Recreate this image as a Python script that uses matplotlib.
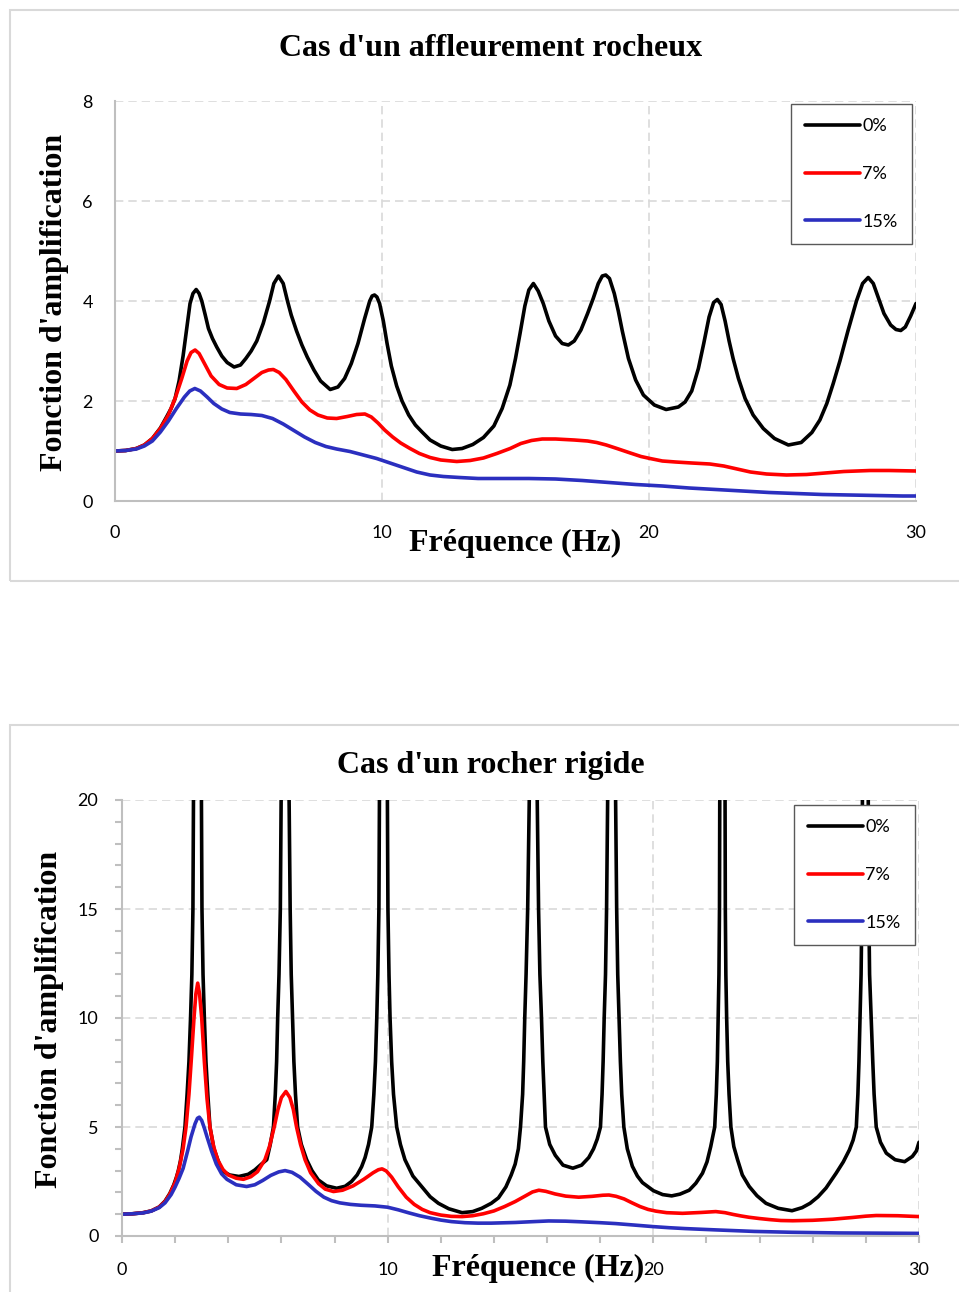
import matplotlib
matplotlib.use("Agg")
import matplotlib.pyplot as plt
import matplotlib.patches as patches
from matplotlib.ticker import MultipleLocator

# ---- data ----
# Top chart: Cas d'un affleurement rocheux
f_top_0 = [0, 0.4, 0.8, 1.1, 1.4, 1.7, 1.95, 2.1, 2.25, 2.4, 2.55, 2.7, 2.81, 2.92, 3.04,
           3.15, 3.25, 3.38, 3.5, 3.65, 3.81, 4.0, 4.2, 4.46, 4.7, 4.9, 5.1, 5.31, 5.55,
           5.79, 5.95, 6.12, 6.3, 6.46, 6.6, 6.8, 7.0, 7.2, 7.45, 7.7, 8.06, 8.35, 8.6,
           8.85, 9.1, 9.35, 9.54, 9.63, 9.72, 9.81, 9.91, 10.05, 10.19, 10.35, 10.55, 10.75,
           11.0, 11.25, 11.5, 11.8, 12.2, 12.63, 13.0, 13.4, 13.8, 14.19, 14.5, 14.79, 15.0,
           15.17, 15.35, 15.5, 15.67, 15.85, 16.04, 16.25, 16.5, 16.75, 16.98, 17.2, 17.45,
           17.7, 17.91, 18.1, 18.25, 18.38, 18.52, 18.7, 18.85, 19.0, 19.23, 19.5, 19.79,
           20.2, 20.64, 21.1, 21.35, 21.6, 21.85, 22.05, 22.25, 22.42, 22.56, 22.7, 22.85,
           23.0, 23.15, 23.35, 23.6, 23.9, 24.28, 24.7, 25.22, 25.7, 26.1, 26.4, 26.66, 26.9,
           27.15, 27.45, 27.77, 28.0, 28.21, 28.4, 28.6, 28.8, 29.05, 29.25, 29.43, 29.6,
           29.8, 30.0]
a_top_0 = [1.0, 1.01, 1.05, 1.12, 1.25, 1.46, 1.7, 1.85, 2.05, 2.4, 2.9, 3.5, 3.95, 4.15, 4.23,
           4.15, 4.0, 3.72, 3.45, 3.25, 3.08, 2.9, 2.77, 2.68, 2.72, 2.85, 3.0, 3.2, 3.55,
           4.0, 4.35, 4.5, 4.35, 4.0, 3.72, 3.4, 3.12, 2.88, 2.62, 2.4, 2.23, 2.28, 2.45,
           2.75, 3.15, 3.65, 4.0, 4.1, 4.12, 4.08, 3.95, 3.6, 3.15, 2.7, 2.3, 2.0,
           1.72, 1.52, 1.38, 1.22, 1.1, 1.03, 1.05, 1.13, 1.27, 1.5, 1.85, 2.32, 2.85,
           3.35, 3.9, 4.22, 4.35, 4.2, 3.95, 3.6, 3.3, 3.15, 3.12, 3.2, 3.42,
           3.75, 4.05, 4.35, 4.5, 4.52, 4.45, 4.15, 3.8, 3.4, 2.85, 2.42, 2.12,
           1.92, 1.83, 1.88, 1.98, 2.2, 2.65, 3.15, 3.68, 3.97, 4.03, 3.93, 3.6,
           3.2, 2.85, 2.45, 2.05, 1.72, 1.45, 1.25, 1.12, 1.17, 1.37, 1.62, 1.95, 2.35,
           2.8, 3.4, 4.0, 4.35, 4.47, 4.35, 4.05, 3.75, 3.52, 3.43, 3.41, 3.48,
           3.7, 3.95]

f_top_7 = [0, 0.4, 0.8, 1.1, 1.4, 1.7, 2.0, 2.25, 2.5, 2.7, 2.85, 3.0, 3.15, 3.35, 3.6, 3.9,
           4.2, 4.56, 4.9, 5.2, 5.5, 5.75, 5.93, 6.15, 6.4, 6.7, 7.0, 7.3, 7.6, 7.95, 8.3,
           8.7, 9.05, 9.36, 9.6, 9.85, 10.1, 10.4, 10.7, 11.05, 11.4, 11.8, 12.2, 12.8,
           13.3, 13.8, 14.3, 14.8, 15.2, 15.6, 16.0, 16.5, 17.2, 17.7, 18.04, 18.4, 18.8,
           19.3, 19.7, 20.04, 20.5, 21.0, 21.6, 22.28, 22.8, 23.3, 23.8, 24.4, 25.15, 25.9,
           26.6, 27.3, 28.28, 29.0, 30.0]
a_top_7 = [1.0, 1.01, 1.05, 1.12, 1.25, 1.45, 1.72, 2.05, 2.45, 2.8, 2.97, 3.02, 2.95, 2.75, 2.5, 2.33,
           2.26, 2.25, 2.33, 2.45, 2.57, 2.62, 2.63, 2.57, 2.43, 2.2, 1.98, 1.82, 1.72, 1.66, 1.65,
           1.69, 1.73, 1.74, 1.68, 1.56, 1.42, 1.28, 1.16, 1.05, 0.95, 0.87, 0.82, 0.79,
           0.81, 0.86, 0.95, 1.05, 1.15, 1.21, 1.24, 1.24, 1.22, 1.2, 1.17, 1.12, 1.05,
           0.96, 0.89, 0.85, 0.8, 0.78, 0.76, 0.74, 0.7, 0.64, 0.58, 0.54, 0.52, 0.53,
           0.56, 0.59, 0.61, 0.61, 0.6]

f_top_15 = [0, 0.4, 0.8, 1.1, 1.4, 1.7, 2.0, 2.3, 2.6, 2.8, 2.99, 3.2, 3.45, 3.7, 4.0, 4.3,
            4.7, 5.1, 5.5, 5.9, 6.3, 6.7, 7.1, 7.5, 7.9, 8.3, 8.8, 9.3, 9.8, 10.3, 10.8, 11.3,
            11.8, 12.3, 12.9, 13.6, 14.5, 15.5, 16.5, 17.5, 18.5, 19.5, 20.5, 21.5, 22.5,
            23.5, 24.5, 25.5, 26.5, 27.5, 28.5, 29.5, 30.0]
a_top_15 = [1.0, 1.01, 1.04, 1.1, 1.2, 1.38, 1.6, 1.85, 2.08, 2.2, 2.25, 2.2, 2.08, 1.95, 1.84, 1.77,
            1.74, 1.73, 1.71, 1.65, 1.54, 1.41, 1.28, 1.17, 1.09, 1.04, 0.99, 0.92, 0.85, 0.76, 0.67, 0.58,
            0.52, 0.49, 0.47, 0.45, 0.45, 0.45, 0.44, 0.41, 0.37, 0.33, 0.3, 0.26, 0.23,
            0.2, 0.17, 0.15, 0.13, 0.12, 0.11, 0.1, 0.1]

# Bottom chart: Cas d'un rocher rigide (0% peaks leave the axes)
f_bot_0 = [0, 0.4, 0.8, 1.1, 1.4, 1.62, 1.8, 1.95, 2.05, 2.12, 2.2, 2.27, 2.37, 2.45, 2.52,
           2.58, 2.63, 2.67, 2.69, 2.84, 2.99, 3.01, 3.05, 3.1, 3.16, 3.23, 3.31, 3.46, 3.75,
           4.05, 4.4, 4.75, 5.0, 5.25, 5.45, 5.58, 5.7, 5.77, 5.82, 5.86, 5.91, 5.96, 5.99,
           6.14, 6.29, 6.33, 6.37, 6.42, 6.47, 6.53, 6.61, 6.75, 6.95, 7.15, 7.39, 7.7, 8.08,
           8.4, 8.64, 8.85, 9.02, 9.15, 9.28, 9.4, 9.48, 9.54, 9.59, 9.63, 9.67, 9.69, 9.84,
           9.99, 10.01, 10.05, 10.09, 10.15, 10.22, 10.34, 10.48, 10.65, 10.95, 11.28, 11.6,
           11.91, 12.3, 12.8, 13.2, 13.54, 13.9, 14.17, 14.45, 14.65, 14.8, 14.92, 15.0,
           15.08, 15.12, 15.16, 15.21, 15.27, 15.33, 15.48, 15.63, 15.68, 15.73, 15.79,
           15.84, 15.89, 15.94, 16.1, 16.31, 16.6, 16.97, 17.3, 17.57, 17.75, 17.89, 18.01,
           18.07, 18.11, 18.15, 18.2, 18.24, 18.28, 18.43, 18.58, 18.62, 18.66, 18.71, 18.76,
           18.81, 18.89, 19.02, 19.21, 19.4, 19.59, 20.0, 20.35, 20.69, 21.0, 21.35, 21.6,
           21.85, 22.02, 22.16, 22.31, 22.37, 22.41, 22.44, 22.47, 22.49, 22.5, 22.6, 22.7,
           22.71, 22.73, 22.76, 22.8, 22.85, 22.92, 23.03, 23.17, 23.35, 23.61, 23.9, 24.24,
           24.7, 25.22, 25.6, 25.9, 26.2, 26.5, 26.88, 27.15, 27.38, 27.52, 27.64, 27.7,
           27.74, 27.78, 27.82, 27.85, 27.87, 27.98, 28.09, 28.11, 28.14, 28.2, 28.26, 28.31,
           28.39, 28.55, 28.77, 29.1, 29.46, 29.75, 29.9, 30.0]
a_bot_0 = [1.0, 1.02, 1.07, 1.15, 1.33, 1.6, 1.95, 2.35, 2.7, 3.0, 3.45, 4.0, 5.0, 6.5, 8,
           10, 12, 15, 20, 1000, 20, 15, 12, 10, 8, 6.5, 5.0, 4.0, 3.0,
           2.8, 2.73, 2.83, 3.03, 3.3, 3.5, 4.2, 5.0, 6.5, 8, 10, 12, 15, 20,
           1000, 20, 15, 12, 10, 8, 6.5, 5.0, 4.2, 3.5, 3.0, 2.57, 2.3, 2.19,
           2.28, 2.5, 2.8, 3.18, 3.6, 4.2, 5.0, 6.5, 8, 10, 12, 15, 20, 1000,
           20, 15, 12, 10, 8, 6.5, 5.0, 4.2, 3.5, 2.75, 2.27, 1.8,
           1.5, 1.25, 1.07, 1.12, 1.27, 1.5, 1.75, 2.25, 2.8, 3.3, 4.0, 5.0,
           6.5, 8, 10, 12, 15, 20, 1000, 20, 15, 12, 10,
           8, 6.5, 5.0, 4.2, 3.7, 3.25, 3.11, 3.25, 3.6, 4.0, 4.45, 5.0,
           6.5, 8, 10, 12, 15, 20, 1000, 20, 15, 12, 10, 8,
           6.5, 5.0, 4.0, 3.2, 2.75, 2.45, 2.08, 1.9, 1.84, 1.92, 2.1, 2.42,
           2.88, 3.4, 4.1, 5.0, 6.5, 8, 10, 12, 15, 20, 1000, 20,
           15, 12, 10, 8, 6.5, 5.0, 4.1, 3.5, 2.8, 2.27, 1.85, 1.5,
           1.27, 1.16, 1.3, 1.5, 1.8, 2.2, 2.88, 3.4, 3.95, 4.4, 5.0, 6.5,
           8, 10, 12, 15, 20, 1000, 20, 15, 12, 10, 8, 6.5,
           5.0, 4.3, 3.8, 3.5, 3.41, 3.65, 3.9, 4.3]

f_bot_7 = [0, 0.4, 0.8, 1.1, 1.4, 1.62, 1.8, 2.0, 2.15, 2.3, 2.41, 2.52, 2.62, 2.71, 2.78, 2.85,
           2.92, 3.0, 3.1, 3.2, 3.31, 3.45, 3.6, 3.8, 4.0, 4.3, 4.57, 4.85, 5.1, 5.38, 5.55,
           5.73, 5.87, 6.0, 6.17, 6.32, 6.45, 6.57, 6.72, 6.89, 7.1, 7.4, 7.65, 7.96, 8.3,
           8.7, 9.1, 9.45, 9.65, 9.79, 9.95, 10.15, 10.4, 10.7, 11.0, 11.3, 11.6, 12.0, 12.4,
           12.8, 13.2, 13.6, 14.0, 14.4, 14.8, 15.2, 15.45, 15.69, 15.95, 16.3, 16.7, 17.19,
           17.7, 18.1, 18.33, 18.6, 18.9, 19.2, 19.5, 19.8, 20.1, 20.5, 21.1, 21.8, 22.35,
           22.7, 23.0, 23.3, 23.6, 24.0, 24.4, 24.8, 25.25, 26.0, 26.75, 27.5, 28.0, 28.39,
           29.2, 30.0]
a_bot_7 = [1.0, 1.02, 1.07, 1.15, 1.33, 1.58, 1.92, 2.45, 3.1, 4.0, 5.0, 6.5, 8.3, 10.0, 11.1, 11.6,
           11.1, 10.0, 8.0, 6.3, 5.0, 4.1, 3.5, 3.05, 2.8, 2.65, 2.6, 2.72, 2.95, 3.5, 4.1,
           5.0, 5.8, 6.35, 6.63, 6.35, 5.8, 5.0, 4.2, 3.5, 2.9, 2.4, 2.15, 2.04, 2.1,
           2.3, 2.6, 2.9, 3.04, 3.08, 2.98, 2.7, 2.25, 1.78, 1.45, 1.22, 1.07, 0.96, 0.9,
           0.89, 0.93, 1.02, 1.15, 1.35, 1.58, 1.85, 2.02, 2.1, 2.05, 1.93, 1.83, 1.78,
           1.82, 1.87, 1.88, 1.82, 1.7, 1.52, 1.35, 1.22, 1.14, 1.07, 1.04, 1.08, 1.12,
           1.07, 0.99, 0.92, 0.86, 0.8, 0.75, 0.71, 0.7, 0.72, 0.77, 0.85, 0.91, 0.94,
           0.93, 0.89]

f_bot_15 = [0, 0.4, 0.8, 1.1, 1.4, 1.62, 1.85, 2.0, 2.15, 2.3, 2.47, 2.6, 2.75, 2.84, 2.91,
            3.0, 3.1, 3.2, 3.37, 3.55, 3.75, 3.95, 4.3, 4.69, 5.0, 5.3, 5.6, 5.9, 6.14, 6.4,
            6.7, 7.0, 7.3, 7.6, 7.89, 8.2, 8.6, 9.0, 9.52, 10.0, 10.4, 10.8, 11.2, 11.66,
            12.0, 12.4, 12.91, 13.4, 13.9, 14.8, 15.5, 16.06, 16.7, 17.3, 18.0, 18.58, 19.3,
            20.0, 20.6, 21.2, 22.35, 23.8, 25.22, 27.0, 28.6, 30.0]
a_bot_15 = [1.0, 1.02, 1.06, 1.14, 1.3, 1.52, 1.9, 2.25, 2.65, 3.1, 3.9, 4.55, 5.15, 5.4, 5.45,
            5.3, 4.95, 4.55, 3.9, 3.3, 2.85, 2.6, 2.35, 2.27, 2.35, 2.55, 2.78, 2.94, 3.0, 2.92,
            2.7, 2.38, 2.05, 1.78, 1.62, 1.52, 1.45, 1.41, 1.38, 1.32, 1.2, 1.06, 0.93, 0.81,
            0.73, 0.66, 0.61, 0.59, 0.59, 0.62, 0.66, 0.69, 0.68, 0.65, 0.61, 0.57, 0.5,
            0.43, 0.38, 0.34, 0.28, 0.21, 0.17, 0.14, 0.13, 0.12]

labels = ["0%", "7%", "15%"]
colors = ["#000000", "#ff0000", "#2b2fbf"]

W, H = 959, 1292
fig = plt.figure(figsize=(W / 100, H / 100), dpi=100)

serif = "Liberation Serif"
sans = "Lato"
grid_col = "#d9d9d9"
axis_col = "#bfbfbf"


def px_ax(x0, y0, x1, y1):
    return fig.add_axes([x0 / W, 1 - y1 / H, (x1 - x0) / W, (y1 - y0) / H])


def style_axes(ax, ymax, ystep, minor):
    ax.set_xlim(0, 30)
    ax.set_ylim(0, ymax)
    ax.xaxis.set_major_locator(MultipleLocator(10))
    ax.yaxis.set_major_locator(MultipleLocator(ystep))
    ax.grid(True, which="major", color=grid_col, linestyle=(0, (5, 3)), linewidth=1.2)
    ax.set_axisbelow(True)
    for s in ["top", "right"]:
        ax.spines[s].set_visible(False)
    for s in ["left", "bottom"]:
        ax.spines[s].set_color(axis_col)
        ax.spines[s].set_linewidth(1.5)
    for lab in ax.get_xticklabels() + ax.get_yticklabels():
        lab.set_fontfamily(sans)
    if minor:
        ax.xaxis.set_minor_locator(MultipleLocator(2))
        ax.yaxis.set_minor_locator(MultipleLocator(1))
        ax.tick_params(which="both", direction="out", length=5, width=1.5, color=axis_col)
        ax.tick_params(axis="x", which="major", pad=14, labelsize=13)
        ax.tick_params(axis="y", which="major", pad=12, labelsize=13)
    else:
        ax.tick_params(which="both", length=0)
        ax.tick_params(axis="x", pad=17, labelsize=13)
        ax.tick_params(axis="y", pad=16, labelsize=13)


def add_legend(ax, x_right, y_top):
    leg = ax.legend(loc="upper right", bbox_to_anchor=(x_right / W, 1 - y_top / H),
                    bbox_transform=fig.transFigure, borderaxespad=0,
                    prop={"family": sans, "size": 13}, handlelength=3.0,
                    handletextpad=0.15, labelspacing=1.75, borderpad=0.8,
                    fancybox=False, framealpha=1, edgecolor="#595959")
    leg.get_frame().set_linewidth(1.0)
    leg.set_zorder(10)


def frame(x0, y0, x1, y1):
    fig.patches.append(patches.Rectangle((x0 / W, 1 - y1 / H), (x1 - x0) / W, (y1 - y0) / H,
                                         transform=fig.transFigure, fill=False,
                                         edgecolor="#d9d9d9", linewidth=1.5))


def plot_lines(ax, xs, ys):
    for f, a, lab, c in zip(xs, ys, labels, colors):
        ax.plot(f, a, color=c, lw=2.6, label=lab,
                solid_capstyle="round", solid_joinstyle="round")


# ---- top chart ----
frame(9.5, 9.5, 975, 580.5)
ax1 = px_ax(115, 101, 916, 501)
plot_lines(ax1, [f_top_0, f_top_7, f_top_15], [a_top_0, a_top_7, a_top_15])
style_axes(ax1, 8, 2, False)
add_legend(ax1, 912, 104)
fig.text(491 / W, 1 - 49 / H, "Cas d'un affleurement rocheux", ha="center", va="center",
         family=serif, weight="bold", size=23)
fig.text(55 / W, 1 - 302 / H, "Fonction d'amplification", ha="center", va="center",
         rotation=90, family=serif, weight="bold", size=23)
fig.text(515 / W, 1 - 543 / H, "Fréquence (Hz)", ha="center", va="center",
         family=serif, weight="bold", size=23)

# ---- bottom chart ----
frame(9.5, 725, 975, 1310)
ax2 = px_ax(122, 800, 919, 1236)
plot_lines(ax2, [f_bot_0, f_bot_7, f_bot_15], [a_bot_0, a_bot_7, a_bot_15])
style_axes(ax2, 20, 5, True)
add_legend(ax2, 915, 805)
fig.text(491 / W, 1 - 766 / H, "Cas d'un rocher rigide", ha="center", va="center",
         family=serif, weight="bold", size=23)
fig.text(50 / W, 1 - 1019 / H, "Fonction d'amplification", ha="center", va="center",
         rotation=90, family=serif, weight="bold", size=23)
fig.text(538 / W, 1 - 1268 / H, "Fréquence (Hz)", ha="center", va="center",
         family=serif, weight="bold", size=23)

fig.savefig("out.png", dpi=100)
